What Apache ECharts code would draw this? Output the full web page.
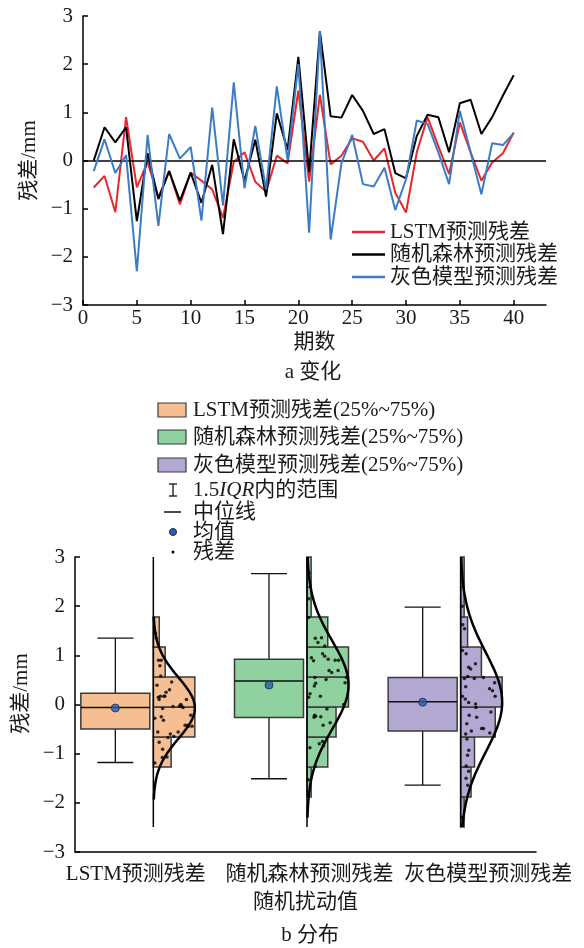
<!DOCTYPE html>
<html><head><meta charset="utf-8">
<script src="https://cdn.jsdelivr.net/npm/echarts@6/dist/echarts.min.js"></script>
<style>html,body{margin:0;padding:0;background:#fff}#c{width:584px;height:948px}</style>
</head><body><div id="c"></div>
<script>
// ---------------- data ----------------
const periods = [1,2,3,4,5,6,7,8,9,10,11,12,13,14,15,16,17,18,19,20,21,22,23,24,25,26,27,28,29,30,31,32,33,34,35,36,37,38,39,40];
const lstmResidual = [-0.56,-0.32,-1.07,0.9,-0.56,-0.03,-0.77,-0.22,-0.91,-0.25,-0.42,-0.6,-1.19,-0.03,0.17,-0.44,-0.65,0.1,-0.06,1.45,-0.44,1.36,-0.08,0.1,0.46,0.39,0.0,0.25,-0.67,-1.08,0.17,0.9,0.3,-0.28,0.79,0.17,-0.42,-0.04,0.15,0.58];
const rfResidual = [0.0,0.69,0.375,0.69,-1.26,0.15,-0.8,-0.22,-0.84,-0.25,-0.88,-0.09,-1.53,0.44,-0.42,0.43,-0.75,0.98,0.22,2.15,-0.24,2.68,0.92,0.89,1.36,1.03,0.55,0.65,-0.26,-0.37,0.51,0.95,0.9,0.17,1.19,1.26,0.55,0.9,1.35,1.77];
const greyResidual = [-0.22,0.44,-0.26,0.11,-2.3,0.53,-1.36,0.55,0.04,0.28,-1.25,1.1,-0.93,1.62,-0.58,0.72,-0.6,1.54,0.01,2.0,-1.5,2.68,-1.64,-0.06,0.53,-0.49,-0.54,-0.15,-1.03,-0.39,0.83,0.76,0.17,-0.49,1.03,0.17,-0.7,0.36,0.32,0.57];
const modelNames = ['LSTM预测残差','随机森林预测残差','灰色模型预测残差'];
const boxNames = ['LSTM预测残差(25%~75%)','随机森林预测残差(25%~75%)','灰色模型预测残差(25%~75%)'];
const xTickValues = [0,5,10,15,20,25,30,35,40];
// box statistics
const boxLow    = [-1.18, -1.51, -1.64];
const boxQ1     = [-0.50, -0.265, -0.54];
const boxMedian = [-0.06, 0.48, 0.055];
const boxQ3     = [0.23, 0.92, 0.55];
const boxHigh   = [1.35, 2.66, 1.98];
// histogram bin edges
const histEdges = [-2.49,-1.88,-1.27,-0.66,-0.05,0.56,1.17,1.78,2.39,3.0];

// ---------------- styles ----------------
const FONT = "'Liberation Serif','Noto Sans CJK SC',serif";
const TXT = '#1a1a1a';
const lineColors = ['#e8262b','#000000','#3b7cc4'];
const boxColors = ['#f6bf93','#8fd19f','#b3a8d2'];
const EDGE = '#3a3a3a';
const HIST_MAX_W = 41.5, HIST_X0 = 1.5, BOX_DX = -36.5, BOX_W = 69, CAP_W = 36;
const minusFmt = v => (v < 0 ? '\u2212' + Math.abs(v) : String(v));

const allResiduals = [lstmResidual, rfResidual, greyResidual];

// ---------------- derived ----------------
const histData = [], curveData = [], meanData = [], jitterData = [];
allResiduals.forEach((arr, g) => {
  const counts = new Array(histEdges.length - 1).fill(0);
  const binOf = v => { for (let k = 0; k < histEdges.length - 1; k++) if (v >= histEdges[k] && v < histEdges[k+1]) return k; return -1; };
  arr.forEach(v => { const k = binOf(v); if (k >= 0) counts[k]++; });
  const maxC = Math.max(...counts);
  counts.forEach((c, k) => { if (c > 0) histData.push({value:[g, histEdges[k], histEdges[k+1], c, maxC], itemStyle:{color:boxColors[g]}}); });
  const m = arr.reduce((a,b)=>a+b,0)/arr.length;
  const sd = Math.sqrt(arr.reduce((a,b)=>a+(b-m)*(b-m),0)/(arr.length-1));
  meanData.push([g, m]);
  curveData.push([g, m, sd]);
  arr.forEach((v, i) => {
    const k = binOf(v);
    const w = counts[k] / maxC * HIST_MAX_W;
    const frac = ((i + 1) * 0.618034 + g * 0.31) % 1;
    jitterData.push({value:[g, v], symbolOffset:[HIST_X0 + 1 + frac * Math.max(0, w - 3), 0]});
  });
});
const boxData = [0,1,2].map(g => ({value:[g, boxLow[g], boxQ1[g], boxMedian[g], boxQ3[g], boxHigh[g]], itemStyle:{color:boxColors[g]}}));

const axisLineStyle = {color:'#000', width:1.5};
const labelStyle = {fontSize:21, fontFamily:FONT, color:TXT};

const chart = echarts.init(document.getElementById('c'), null, {renderer:'canvas', width:584, height:948});

const option = {
  animation:false,
  backgroundColor:'#fff',
  grid:[
    {left:83, right:38, top:16, height:289},
    {left:75, right:48, top:557, height:295}
  ],
  xAxis:[
    {gridIndex:0, type:'value', min:0, max:43, interval:5,
     axisLine:{onZero:false, lineStyle:axisLineStyle},
     axisTick:{inside:true, length:5, lineStyle:axisLineStyle, customValues:xTickValues},
     axisLabel:Object.assign({margin:3, customValues:xTickValues}, labelStyle),
     splitLine:{show:false},
     name:'期数', nameLocation:'middle', nameGap:27, nameTextStyle:labelStyle},
    {gridIndex:1, type:'category', data:modelNames, boundaryGap:true,
     axisLine:{onZero:false, lineStyle:axisLineStyle},
     axisTick:{inside:true, alignWithLabel:true, length:6, lineStyle:axisLineStyle},
     axisLabel:{interval:0, margin:12, formatter:(v,i)=>'{l'+i+'|'+v+'}',
       rich:{
         l0:Object.assign({padding:[0,32,0,0]}, labelStyle),
         l1:Object.assign({padding:[0,0,0,8]}, labelStyle),
         l2:Object.assign({padding:[0,0,0,58]}, labelStyle)
       }},
     splitLine:{show:false},
     name:'随机扰动值', nameLocation:'middle', nameGap:40, nameTextStyle:labelStyle}
  ],
  yAxis:[
    {gridIndex:0, type:'value', min:-3, max:3, interval:1,
     axisLine:{show:true, onZero:false, lineStyle:axisLineStyle},
     axisTick:{show:true, inside:true, length:5, lineStyle:axisLineStyle},
     axisLabel:Object.assign({margin:10, formatter:minusFmt}, labelStyle),
     splitLine:{show:false},
     name:'残差/mm', nameLocation:'middle', nameGap:30, nameTextStyle:labelStyle},
    {gridIndex:1, type:'value', min:-3, max:3, interval:1,
     axisLine:{show:true, onZero:false, lineStyle:axisLineStyle},
     axisTick:{show:true, inside:true, length:5, lineStyle:axisLineStyle},
     axisLabel:Object.assign({margin:10, formatter:minusFmt}, labelStyle),
     splitLine:{show:false},
     name:'残差/mm', nameLocation:'middle', nameGap:41, nameTextStyle:Object.assign({padding:[0,0,0,22]}, labelStyle)}
  ],
  legend:{
    data:modelNames, orient:'vertical', left:347, top:216,
    icon:'rect', itemWidth:33, itemHeight:2.5, itemGap:0.5,
    textStyle:Object.assign({lineHeight:22}, labelStyle)
  },
  series:[
    ...modelNames.map((n, g) => ({
      name:n, type:'line', xAxisIndex:0, yAxisIndex:0,
      data: periods.map((p, i) => [p, allResiduals[g][i]]),
      symbol:'none', lineStyle:{width:2, color:lineColors[g]}, itemStyle:{color:lineColors[g]},
      z: 3 + g,
      markLine: g === 0 ? {silent:true, symbol:['none','none'], label:{show:false},
        lineStyle:{type:'solid', color:'#000', width:1.5}, data:[{yAxis:0}]} : undefined
    })),
    // boxes + whiskers + medians
    {name:'box', type:'custom', xAxisIndex:1, yAxisIndex:1, data:boxData, z:2,
     encode:{x:0, y:[1,2,3,4,5]},
     renderItem:(params, api) => {
       const cat = api.value(0);
       const pLow = api.coord([cat, api.value(1)]);
       const pQ1 = api.coord([cat, api.value(2)]);
       const pMed = api.coord([cat, api.value(3)]);
       const pQ3 = api.coord([cat, api.value(4)]);
       const pHigh = api.coord([cat, api.value(5)]);
       const cx = pQ1[0] + BOX_DX;
       const ls = {stroke:'#111', lineWidth:1.3};
       return {type:'group', children:[
         {type:'line', shape:{x1:cx, y1:pQ3[1], x2:cx, y2:pHigh[1]}, style:ls},
         {type:'line', shape:{x1:cx, y1:pQ1[1], x2:cx, y2:pLow[1]}, style:ls},
         {type:'line', shape:{x1:cx-CAP_W/2, y1:pHigh[1], x2:cx+CAP_W/2, y2:pHigh[1]}, style:ls},
         {type:'line', shape:{x1:cx-CAP_W/2, y1:pLow[1], x2:cx+CAP_W/2, y2:pLow[1]}, style:ls},
         {type:'rect', shape:{x:cx-BOX_W/2, y:pQ3[1], width:BOX_W, height:pQ1[1]-pQ3[1]},
          style:{fill:api.visual('color'), stroke:EDGE, lineWidth:1.5}},
         {type:'line', shape:{x1:cx-BOX_W/2, y1:pMed[1], x2:cx+BOX_W/2, y2:pMed[1]}, style:{stroke:'#111', lineWidth:1.5}}
       ]};
     }},
    // histograms
    {name:'hist', type:'custom', xAxisIndex:1, yAxisIndex:1, data:histData, z:2,
     encode:{x:0, y:[1,2]},
     renderItem:(params, api) => {
       const cat = api.value(0);
       const pLo = api.coord([cat, api.value(1)]);
       const pHi = api.coord([cat, api.value(2)]);
       const w = api.value(3) / api.value(4) * HIST_MAX_W;
       return {type:'rect', shape:{x:pLo[0]+HIST_X0, y:pHi[1], width:w, height:pLo[1]-pHi[1]},
         style:{fill:api.visual('color'), stroke:EDGE, lineWidth:1.5}};
     }},
    // residual points
    {name:'残差', type:'scatter', xAxisIndex:1, yAxisIndex:1, data:jitterData, symbolSize:3.5,
     itemStyle:{color:'#000'}, z:4},
    // normal curves + baselines
    {name:'curve', type:'custom', xAxisIndex:1, yAxisIndex:1, data:curveData, z:5,
     encode:{x:0, y:1},
     renderItem:(params, api) => {
       const cat = api.value(0), m = api.value(1), sd = api.value(2);
       const lo = Math.max(histEdges[0], m - 3*sd), hi = Math.min(histEdges[histEdges.length-1], m + 3*sd);
       const pts = [];
       for (let y = lo; y <= hi + 1e-9; y += 0.02) {
         const p = api.coord([cat, y]);
         pts.push([p[0] + HIST_X0 + HIST_MAX_W * Math.exp(-0.5 * Math.pow((y - m)/sd, 2)), p[1]]);
       }
       const b0 = api.coord([cat, histEdges[0]]), b1 = api.coord([cat, histEdges[histEdges.length-1]]);
       return {type:'group', children:[
         {type:'line', shape:{x1:b0[0]+HIST_X0, y1:b0[1], x2:b1[0]+HIST_X0, y2:b1[1]}, style:{stroke:'#000', lineWidth:1.5}},
         {type:'polyline', shape:{points:pts}, style:{stroke:'#000', lineWidth:2.5, fill:null}}
       ]};
     }},
    // means
    {name:'均值', type:'scatter', xAxisIndex:1, yAxisIndex:1, data:meanData, symbolSize:8,
     symbolOffset:[BOX_DX, 0], itemStyle:{color:'#2a5caa', borderColor:'#1c2d57', borderWidth:1}, z:6}
  ],
  graphic:[
    {type:'text', x:313, y:372, style:{text:'a 变化', font:'21px '+FONT, fill:TXT, align:'center', verticalAlign:'middle'}},
    {type:'text', x:310, y:935, style:{text:'b 分布', font:'21px '+FONT, fill:TXT, align:'center', verticalAlign:'middle'}},
    // bottom legend
    {type:'rect', shape:{x:158, y:403, width:28, height:14}, style:{fill:boxColors[0], stroke:EDGE, lineWidth:1.2}},
    {type:'text', x:193, y:410, style:{text:boxNames[0], font:'21px '+FONT, fill:TXT, verticalAlign:'middle'}},
    {type:'rect', shape:{x:158, y:430, width:28, height:14}, style:{fill:boxColors[1], stroke:EDGE, lineWidth:1.2}},
    {type:'text', x:193, y:437, style:{text:boxNames[1], font:'21px '+FONT, fill:TXT, verticalAlign:'middle'}},
    {type:'rect', shape:{x:158, y:458, width:28, height:14}, style:{fill:boxColors[2], stroke:EDGE, lineWidth:1.2}},
    {type:'text', x:193, y:465, style:{text:boxNames[2], font:'21px '+FONT, fill:TXT, verticalAlign:'middle'}},
    {type:'line', shape:{x1:173, y1:484, x2:173, y2:496}, style:{stroke:'#111', lineWidth:1.3}},
    {type:'line', shape:{x1:169, y1:484, x2:177, y2:484}, style:{stroke:'#111', lineWidth:1.3}},
    {type:'line', shape:{x1:169, y1:496, x2:177, y2:496}, style:{stroke:'#111', lineWidth:1.3}},
    {type:'text', x:193, y:490, style:{text:'1.5{i|IQR}内的范围', font:'21px '+FONT, fill:TXT, verticalAlign:'middle',
      rich:{i:{fontStyle:'italic', fontSize:21, fontFamily:FONT, fill:TXT}}}},
    {type:'line', shape:{x1:164, y1:512, x2:181, y2:512}, style:{stroke:'#111', lineWidth:1.5}},
    {type:'text', x:193, y:512, style:{text:'中位线', font:'21px '+FONT, fill:TXT, verticalAlign:'middle'}},
    {type:'circle', shape:{cx:173, cy:532, r:3.5}, style:{fill:'#2a5caa', stroke:'#1c2d57', lineWidth:1}},
    {type:'text', x:193, y:532, style:{text:'均值', font:'21px '+FONT, fill:TXT, verticalAlign:'middle'}},
    {type:'circle', shape:{cx:173, cy:552, r:1.5}, style:{fill:'#000'}},
    {type:'text', x:193, y:552, style:{text:'残差', font:'21px '+FONT, fill:TXT, verticalAlign:'middle'}}
  ]
};
chart.setOption(option);
</script>
</body></html>
